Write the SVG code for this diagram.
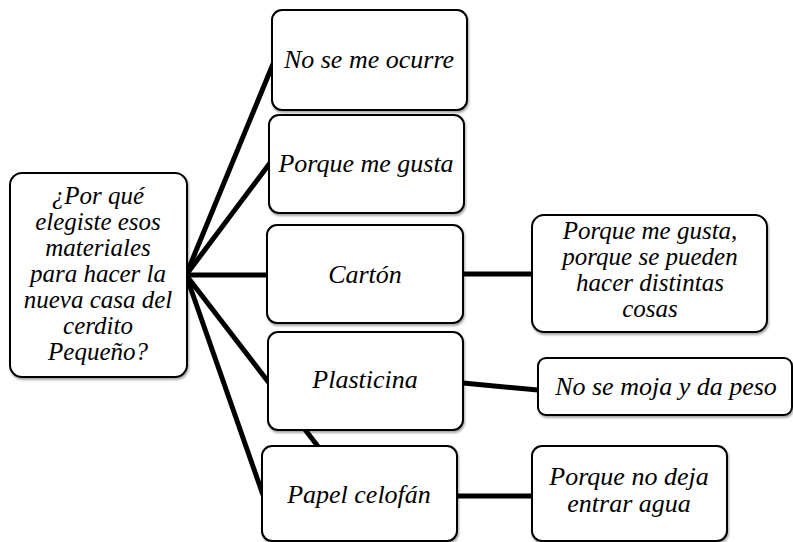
<svg xmlns="http://www.w3.org/2000/svg" width="793" height="542" viewBox="0 0 793 542">
<style>
.box{fill:#fff;stroke:#000;stroke-width:2;filter:url(#sh)}
.t{font-family:'Liberation Serif','Times New Roman',serif;font-style:italic;font-size:26px;fill:#000;text-anchor:middle}
.s{font-size:25px}
.c{stroke:#000;stroke-width:5;fill:none;stroke-linecap:butt}
</style>
<defs>
<filter id="sh" x="-5%" y="-5%" width="115%" height="115%">
<feDropShadow dx="1" dy="2" stdDeviation="1" flood-color="#000" flood-opacity="0.35"/>
</filter>
</defs>
<rect width="793" height="542" fill="#fff"/>
<g id="connectors">
<line class="c" x1="186" y1="275" x2="273" y2="64"/>
<line class="c" x1="186" y1="275" x2="270" y2="163"/>
<line class="c" x1="186" y1="275" x2="268" y2="275"/>
<line class="c" x1="186" y1="275" x2="330" y2="462"/>
<line class="c" x1="186" y1="275" x2="263" y2="495"/>
<line class="c" x1="463" y1="274" x2="533" y2="274"/>
<line class="c" x1="463" y1="383" x2="538" y2="390"/>
<line class="c" x1="457" y1="496" x2="533" y2="496"/>
</g>
<g id="q">
<rect class="box" x="10" y="173" width="177" height="204" rx="12"/>
<text class="t s" x="98" y="204">¿Por qué</text>
<text class="t s" x="98" y="230">elegiste esos</text>
<text class="t s" x="98" y="256">materiales</text>
<text class="t s" x="98" y="282">para hacer la</text>
<text class="t s" x="98" y="308">nueva casa del</text>
<text class="t s" x="98" y="334">cerdito</text>
<text class="t s" x="98" y="360">Pequeño?</text>
</g>
<g id="n1">
<rect class="box" x="272" y="10" width="195" height="100" rx="10"/>
<text class="t" x="369" y="68">No se me ocurre</text>
</g>
<g id="n2">
<rect class="box" x="269" y="115" width="195" height="98" rx="10"/>
<text class="t" x="366" y="172">Porque me gusta</text>
</g>
<g id="n3">
<rect class="box" x="267" y="225" width="196" height="98" rx="10"/>
<text class="t" x="365" y="283">Cartón</text>
</g>
<g id="n4">
<rect class="box" x="268" y="332" width="195" height="98" rx="10"/>
<text class="t" x="365" y="388">Plasticina</text>
</g>
<g id="n5">
<rect class="box" x="262" y="446" width="195" height="95" rx="10"/>
<text class="t" x="359" y="503">Papel celofán</text>
</g>
<g id="a3">
<rect class="box" x="532" y="215" width="235" height="117" rx="12"/>
<text class="t s" x="650" y="239">Porque me gusta,</text>
<text class="t s" x="650" y="265">porque se pueden</text>
<text class="t s" x="650" y="291">hacer distintas</text>
<text class="t s" x="650" y="317">cosas</text>
</g>
<g id="a4">
<rect class="box" x="538" y="358" width="254" height="57" rx="8"/>
<text class="t" x="666" y="395">No se moja y da peso</text>
</g>
<g id="a5">
<rect class="box" x="532" y="446" width="195" height="95" rx="10"/>
<text class="t" x="629" y="485">Porque no deja</text>
<text class="t" x="629" y="512">entrar agua</text>
</g>
</svg>
